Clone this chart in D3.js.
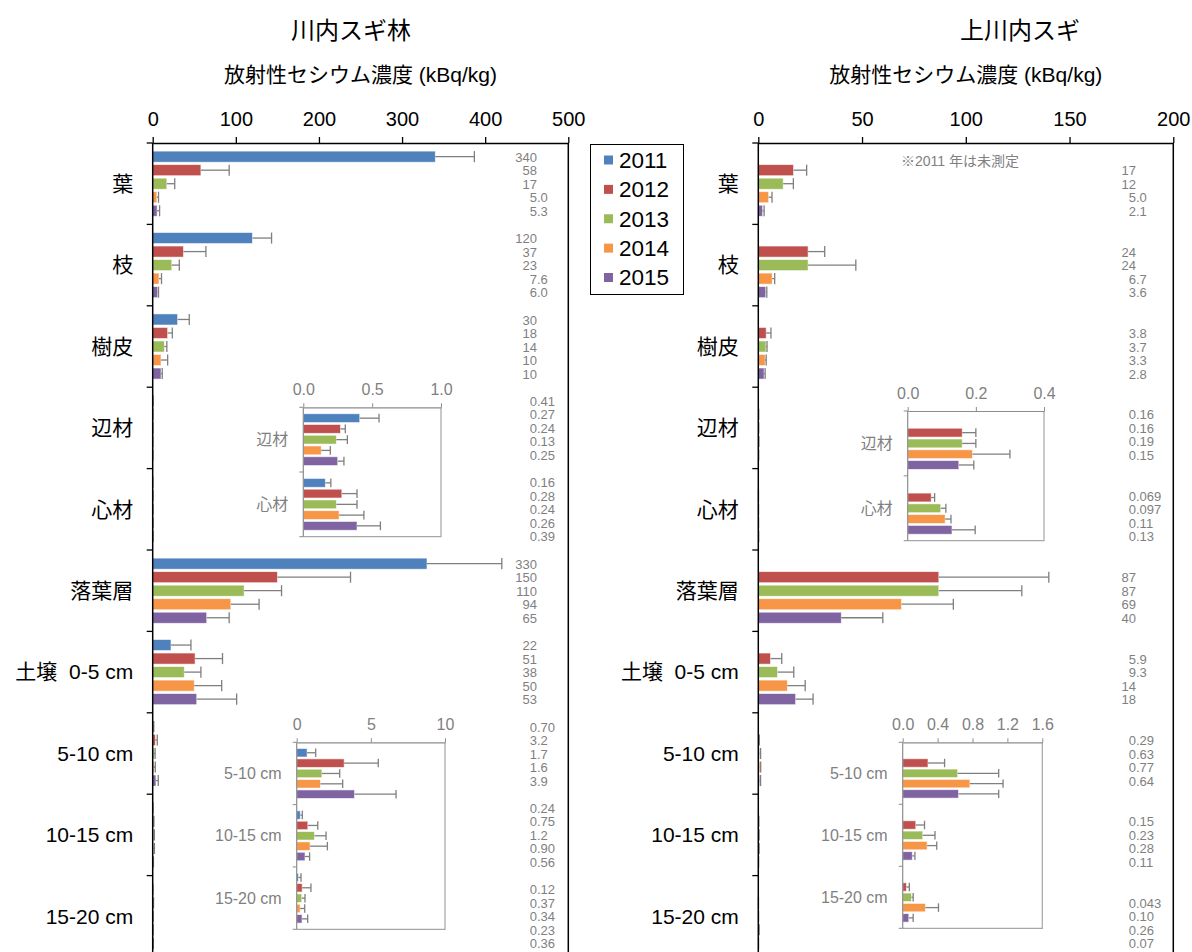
<!DOCTYPE html>
<html>
<head>
<meta charset="utf-8">
<script src="https://cdn.jsdelivr.net/npm/d3@7"></script>
<style>
  body { margin: 0; background: #fff; }
  svg { display: block; }
  text { font-family: 'Liberation Sans', Arial, 'Noto Sans CJK JP', sans-serif; }
</style>
</head>
<body>
<svg id="chart" width="1192" height="952"></svg>
<script>
// ---- data -------------------------------------------------------------
const years = ["2011", "2012", "2013", "2014", "2015"];
const yearColors = ["#4F81BD", "#C0504D", "#9BBB59", "#F79646", "#8064A2"];
const categories = ["葉", "枝", "樹皮", "辺材", "心材", "落葉層", "土壌  0-5 cm", "5-10 cm", "10-15 cm", "15-20 cm"];

// 川内スギ林: radiocesium concentration (kBq/kg) per category, one array per year
const kawauchi2011 = ["340", "120", "30", "0.41", "0.16", "330", "22", "0.70", "0.24", "0.12"];
const kawauchi2012 = ["58", "37", "18", "0.27", "0.28", "150", "51", "3.2", "0.75", "0.37"];
const kawauchi2013 = ["17", "23", "14", "0.24", "0.24", "110", "38", "1.7", "1.2", "0.34"];
const kawauchi2014 = ["5.0", "7.6", "10", "0.13", "0.26", "94", "50", "1.6", "0.90", "0.23"];
const kawauchi2015 = ["5.3", "6.0", "10", "0.25", "0.39", "65", "53", "3.9", "0.56", "0.36"];
// standard deviations
const kawauchiErr2011 = [47, 23, 14, 0.14, 0.04, 90, 24, 0.58, 0.14, 0.17];
const kawauchiErr2012 = [34, 27, 5.6, 0.035, 0.11, 88, 33, 2.3, 0.67, 0.59];
const kawauchiErr2013 = [9.5, 9, 3, 0.08, 0.15, 45, 20, 1.2, 0.78, 0.22];
const kawauchiErr2014 = [2, 3, 8, 0.066, 0.18, 34, 33, 1.5, 1.17, 0.31];
const kawauchiErr2015 = [3, 1, 1.5, 0.045, 0.17, 27, 48, 2.8, 0.31, 0.38];

// 上川内スギ: 2011 not measured
const kami2011 = [null, null, null, null, null, null, null, null, null, null];
const kami2012 = ["17", "24", "3.8", "0.16", "0.069", "87", "5.9", "0.29", "0.15", "0.043"];
const kami2013 = ["12", "24", "3.7", "0.16", "0.097", "87", "9.3", "0.63", "0.23", "0.10"];
const kami2014 = ["5.0", "6.7", "3.3", "0.19", "0.11", "69", "14", "0.77", "0.28", "0.26"];
const kami2015 = ["2.1", "3.6", "2.8", "0.15", "0.13", "40", "18", "0.64", "0.11", "0.07"];
const kamiErr2011 = [null, null, null, null, null, null, null, null, null, null];
const kamiErr2012 = [6.3, 8, 2.3, 0.04, 0.01, 53, 5.4, 0.19, 0.1, 0.033];
const kamiErr2013 = [4.9, 23, 0.5, 0.04, 0.015, 40, 7.8, 0.47, 0.14, 0.02];
const kamiErr2014 = [1.6, 1.2, 0.5, 0.11, 0.017, 25, 8.6, 0.38, 0.11, 0.15];
const kamiErr2015 = [0.7, 0.5, 0.5, 0.044, 0.068, 20, 8.4, 0.46, 0.03, 0.05];

const kawauchiTicks = [0, 100, 200, 300, 400, 500];
const kamiTicks = [0, 50, 100, 150, 200];

// ---- helpers ----------------------------------------------------------
const svg = d3.select("#chart");
const GRAY = "#7f7f7f";
const ERR = "#7f7f7f";

function buildRows(labelArrays, errArrays) {
  const rows = [];
  categories.forEach((cat, i) => {
    years.forEach((yr, j) => {
      const t = labelArrays[j][i];
      if (t == null) return;
      rows.push({ cat, year: yr, j, text: t, value: +t, err: errArrays[j][i] });
    });
  });
  return rows;
}

function drawBars(g, rows, x, y, yInner) {
  g.selectAll(null).data(rows).join("rect")
    .attr("x", x(0))
    .attr("y", d => y(d.cat) + yInner(d.year))
    .attr("width", d => Math.max(0, x(d.value) - x(0)))
    .attr("height", yInner.bandwidth())
    .attr("fill", d => yearColors[d.j])
    .attr("stroke", "#fff")
    .attr("stroke-opacity", 0.7)
    .attr("stroke-width", 0.8);

  const eg = g.selectAll(null).data(rows).join("g")
    .attr("stroke", ERR).attr("stroke-width", 1.3).attr("fill", "none");
  eg.append("line")
    .attr("x1", d => x(d.value)).attr("x2", d => x(d.value + d.err))
    .attr("y1", d => y(d.cat) + yInner(d.year) + yInner.bandwidth() / 2)
    .attr("y2", d => y(d.cat) + yInner(d.year) + yInner.bandwidth() / 2);
  eg.append("line")
    .attr("x1", d => x(d.value + d.err)).attr("x2", d => x(d.value + d.err))
    .attr("y1", d => y(d.cat) + yInner(d.year))
    .attr("y2", d => y(d.cat) + yInner(d.year) + yInner.bandwidth());
}

// ---- main panel -------------------------------------------------------
function drawPanel(p) {
  const g = svg.append("g");
  const top = 143;
  const x = d3.scaleLinear().domain([0, p.max]).range([p.x0, p.x1]);
  const y = d3.scaleBand().domain(categories).range([top, top + 81.4 * categories.length]);
  const yInner = d3.scaleBand().domain(years).range([0, y.bandwidth()]).paddingInner(0.18).paddingOuter(0.6);
  const bottom = y.range()[1];
  const rows = buildRows(p.labels, p.errs);

  // titles
  g.append("text").attr("x", p.titleX).attr("y", 31).attr("dy", "0.35em")
    .attr("text-anchor", "middle").attr("font-size", 24).attr("fill", "#000").text(p.title);
  g.append("text").attr("x", (p.x0 + p.x1) / 2).attr("y", 75).attr("dy", "0.35em")
    .attr("text-anchor", "middle").attr("font-size", 21).attr("fill", "#000")
    .text("放射性セシウム濃度 (kBq/kg)");

  drawBars(g, rows, x, y, yInner);

  // top value axis
  const ax = g.append("g").attr("transform", `translate(0,${top})`)
    .call(d3.axisTop(x).tickValues(p.ticks).tickSize(6).tickSizeOuter(0).tickPadding(11).tickFormat(d3.format("d")))
    .attr("font-family", null).attr("font-size", null);
  ax.select(".domain").attr("stroke", "#000").attr("stroke-width", 1.5);
  ax.selectAll(".tick line").attr("stroke", "#000").attr("stroke-width", 1.3);
  ax.selectAll(".tick text").attr("font-size", 20).attr("fill", "#000");

  // category axis with ticks on band boundaries
  g.append("line").attr("x1", p.x0).attr("x2", p.x0).attr("y1", top).attr("y2", bottom)
    .attr("stroke", "#000").attr("stroke-width", 1.5);
  g.append("line").attr("x1", p.x1).attr("x2", p.x1).attr("y1", top).attr("y2", bottom)
    .attr("stroke", "#000").attr("stroke-width", 1.5);
  const bounds = categories.map(c => y(c)).concat([bottom]);
  g.selectAll(null).data(bounds).join("line")
    .attr("x1", p.x0 - 6).attr("x2", p.x0).attr("y1", d => d).attr("y2", d => d)
    .attr("stroke", "#000").attr("stroke-width", 1.3);
  g.selectAll(null).data(categories).join("text")
    .attr("x", p.x0 - 19.5).attr("y", c => y(c) + y.bandwidth() / 2).attr("dy", "0.35em")
    .attr("text-anchor", "end").attr("font-size", 21).attr("fill", "#000")
    .style("white-space", "pre")
    .text(c => c);

  // value column, aligned on the decimal point
  const vt = g.selectAll(null).data(rows).join("text")
    .attr("y", d => y(d.cat) + yInner(d.year) + yInner.bandwidth() / 2 + 0.5)
    .attr("dy", "0.35em").attr("font-size", 13).attr("fill", GRAY);
  vt.each(function (d) {
    const sel = d3.select(this);
    const parts = d.text.split(".");
    const ip = sel.append("tspan").text(parts[0]);
    if (parts.length > 1) sel.append("tspan").text("." + parts[1]);
    const w = ip.node().getComputedTextLength();
    sel.attr("x", p.labelX - w);
  });

  if (p.note) {
    g.append("text").attr("x", p.note.x).attr("y", 161).attr("dy", "0.35em")
      .attr("text-anchor", "middle").attr("font-size", 14).attr("fill", GRAY).text(p.note.text);
  }
  return rows;
}

// ---- magnified inset --------------------------------------------------
function drawInset(p) {
  const g = svg.append("g");
  const cats = p.idx.map(i => categories[i]);
  const x = d3.scaleLinear().domain([0, p.max]).range([p.x0, p.x1]);
  const y = d3.scaleBand().domain(cats).range([p.y0, p.y1]);
  const yInner = d3.scaleBand().domain(years).range([0, y.bandwidth()]).paddingInner(0.18).paddingOuter(0.6);
  const rows = p.rows.filter(r => cats.includes(r.cat));

  g.append("rect").attr("x", p.x0).attr("y", p.y0).attr("width", p.x1 - p.x0).attr("height", p.y1 - p.y0)
    .attr("fill", "#fff");
  drawBars(g, rows, x, y, yInner);

  // right and bottom border
  g.append("path")
    .attr("d", `M${p.x0},${p.y1}H${p.x1}V${p.y0}`)
    .attr("fill", "none").attr("stroke", "#a6a6a6").attr("stroke-width", 1.2);

  const ax = g.append("g").attr("transform", `translate(0,${p.y0})`)
    .call(d3.axisTop(x).tickValues(p.ticks).tickSize(4).tickSizeOuter(0).tickPadding(8).tickFormat(d3.format(p.fmt)))
    .attr("font-family", null).attr("font-size", null);
  ax.select(".domain").attr("stroke", "#8c8c8c").attr("stroke-width", 1.2);
  ax.selectAll(".tick line").attr("stroke", "#8c8c8c");
  ax.selectAll(".tick text").attr("font-size", 16).attr("fill", GRAY);

  g.append("line").attr("x1", p.x0).attr("x2", p.x0).attr("y1", p.y0).attr("y2", p.y1)
    .attr("stroke", "#8c8c8c").attr("stroke-width", 1.2);
  const bounds = cats.map(c => y(c)).concat([p.y1]);
  g.selectAll(null).data(bounds).join("line")
    .attr("x1", p.x0 - 4).attr("x2", p.x0).attr("y1", d => d).attr("y2", d => d)
    .attr("stroke", "#8c8c8c");
  g.selectAll(null).data(cats).join("text")
    .attr("x", p.x0 - 15).attr("y", c => y(c) + y.bandwidth() / 2).attr("dy", "0.35em")
    .attr("text-anchor", "end").attr("font-size", 16).attr("fill", GRAY)
    .text(c => c);
}

// ---- draw -------------------------------------------------------------
const kawauchiRows = drawPanel({
  title: "川内スギ林", titleX: 351,
  x0: 152.7, x1: 568.3, max: 500, ticks: kawauchiTicks, labelX: 537,
  labels: [kawauchi2011, kawauchi2012, kawauchi2013, kawauchi2014, kawauchi2015],
  errs: [kawauchiErr2011, kawauchiErr2012, kawauchiErr2013, kawauchiErr2014, kawauchiErr2015]
});
const kamiRows = drawPanel({
  title: "上川内スギ", titleX: 1020,
  x0: 758.3, x1: 1173.3, max: 200, ticks: kamiTicks, labelX: 1136,
  labels: [kami2011, kami2012, kami2013, kami2014, kami2015],
  errs: [kamiErr2011, kamiErr2012, kamiErr2013, kamiErr2014, kamiErr2015],
  note: { x: 960, text: "※2011 年は未測定" }
});

drawInset({ rows: kawauchiRows, idx: [3, 4], x0: 303.3, x1: 441, y0: 407.3, y1: 536.7, max: 1, ticks: [0, 0.5, 1], fmt: ".1f" });
drawInset({ rows: kawauchiRows, idx: [7, 8, 9], x0: 296.7, x1: 445, y0: 742.3, y1: 929.3, max: 10, ticks: [0, 5, 10], fmt: "d" });
drawInset({ rows: kamiRows, idx: [3, 4], x0: 907.7, x1: 1044, y0: 411, y1: 540.7, max: 0.4, ticks: [0, 0.2, 0.4], fmt: ".1f" });
drawInset({ rows: kamiRows, idx: [7, 8, 9], x0: 902.7, x1: 1042.3, y0: 742.3, y1: 928.3, max: 1.6, ticks: [0, 0.4, 0.8, 1.2, 1.6], fmt: ".1f" });

// ---- legend -------------------------------------------------------------
const legend = svg.append("g");
legend.append("rect").attr("x", 590.5).attr("y", 144.5).attr("width", 93).attr("height", 150)
  .attr("fill", "#fff").attr("stroke", "#000").attr("stroke-width", 1);
const ly = d3.scalePoint().domain(years).range([160, 277.5]);
const li = legend.selectAll(null).data(years).join("g")
  .attr("transform", d => `translate(0,${ly(d)})`);
li.append("rect").attr("x", 604).attr("y", -4.5).attr("width", 9).attr("height", 9)
  .attr("fill", (d, i) => yearColors[i]);
li.append("text").attr("x", 619).attr("dy", "0.35em").attr("font-size", 22.5).attr("fill", "#000").text(d => d);
</script>
</body>
</html>
